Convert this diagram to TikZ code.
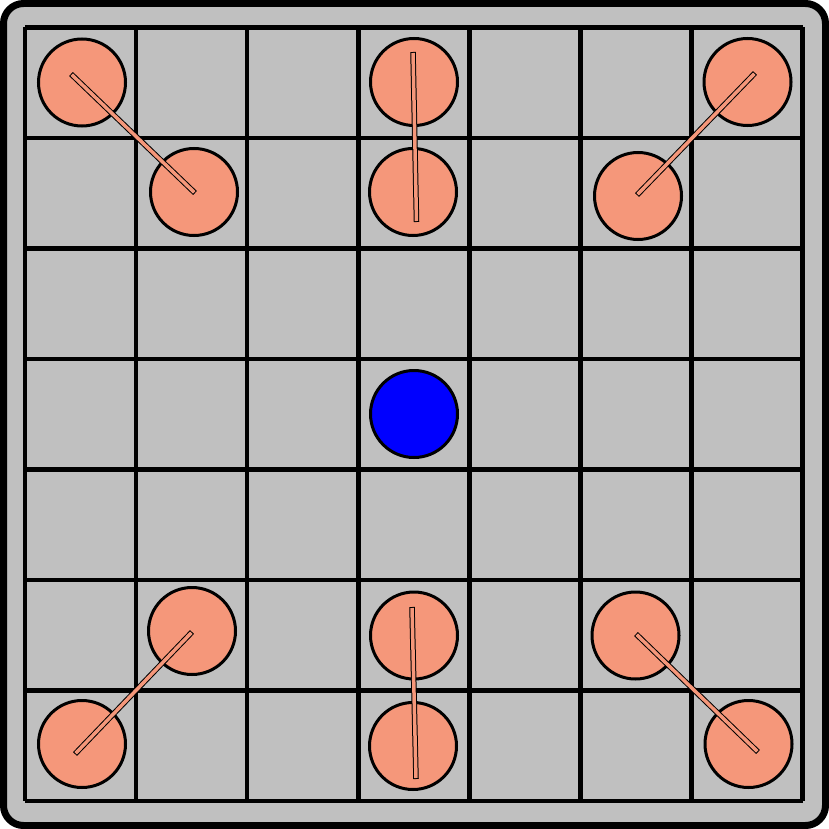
\documentclass[tikz,border=0pt]{standalone}
\definecolor{boardgray}{RGB}{192,192,192}
\definecolor{piece}{RGB}{245,151,122}
\definecolor{kingblue}{RGB}{0,0,255}
\tikzset{
  board/.style={draw=black, fill=boardgray, line width=7pt, rounded corners=20pt},
  gridline/.style={draw=black, line width=4.5pt},
  stone/.style={circle, draw=black, fill=piece, line width=3pt, minimum size=87pt, inner sep=0pt},
  king/.style={circle, draw=black, fill=kingblue, line width=3pt, minimum size=87pt, inner sep=0pt},
  barout/.style={draw=black, line width=5.5pt, line cap=butt},
  barin/.style={draw=piece, line width=3.5pt, line cap=butt, shorten >=1pt, shorten <=1pt}
}
\newcommand{\linkbar}[2]{\draw[barout] (#1) -- (#2); \draw[barin] (#1) -- (#2);}
\begin{document}
\begin{tikzpicture}[x=1pt, y=-1pt]
\useasboundingbox (0,0) rectangle (829,829);
\draw[board] (3.5,3.5) rectangle (825.5,825.5);
\foreach \k in {0,...,7} {
  \draw[gridline] ({25+111.1*\k},27.5) -- ({25+111.1*\k},801);
  \draw[gridline] (25,{27.5+110.5*\k}) -- (802.7,{27.5+110.5*\k});
}
% stones
\node[stone] (c1) at (82,82.5) {};
\node[stone] (c2) at (194,192) {};
\node[stone] (c3) at (414,82) {};
\node[stone] (c4) at (413,192) {};
\node[stone] (c5) at (747.5,82) {};
\node[stone] (c6) at (638,196) {};
\node[stone] (c7) at (192,631) {};
\node[stone] (c8) at (82,744) {};
\node[stone] (c9) at (414,635.5) {};
\node[stone] (c10) at (413,746) {};
\node[stone] (c11) at (635.5,635.5) {};
\node[stone] (c12) at (748.5,744) {};
\node[king] (k) at (414,414) {};
% bar end points
\coordinate (a1) at (71,74);    \coordinate (b1) at (195,193);
\coordinate (a2) at (413,52);   \coordinate (b2) at (416.5,222);
\coordinate (a3) at (755,73);   \coordinate (b3) at (637,195);
\coordinate (a4) at (192,632);  \coordinate (b4) at (75,754);
\coordinate (a5) at (412,607);  \coordinate (b5) at (416,779);
\coordinate (a6) at (636,634);  \coordinate (b6) at (758,752);
\linkbar{a1}{b1}
\linkbar{a2}{b2}
\linkbar{a3}{b3}
\linkbar{a4}{b4}
\linkbar{a5}{b5}
\linkbar{a6}{b6}
\end{tikzpicture}
\end{document}
